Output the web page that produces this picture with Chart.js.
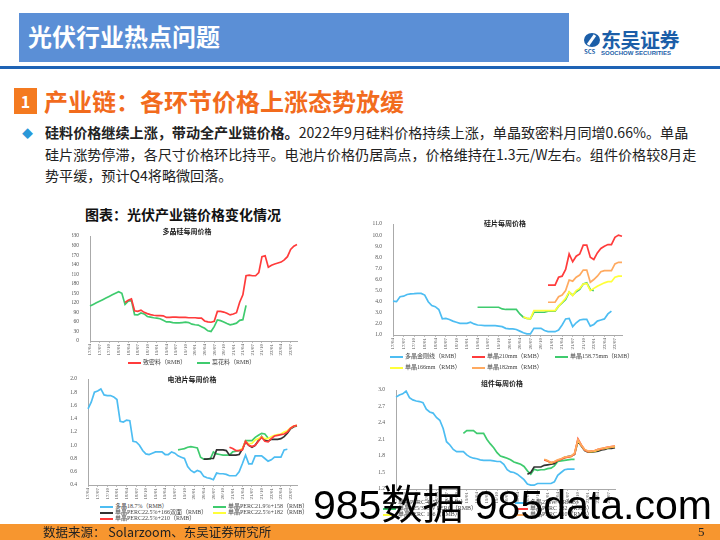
<!DOCTYPE html>
<html>
<head>
<meta charset="utf-8">
<script src="https://cdn.jsdelivr.net/npm/chart.js@4.4.0/dist/chart.umd.min.js"></script>
<style>
body { margin:0; width:720px; height:540px; position:relative; overflow:hidden; background:#fff;
  font-family:"Noto Sans CJK SC","Noto Sans",sans-serif; }
.abs { position:absolute; white-space:nowrap; }
#hdr { left:19px; top:13px; width:550px; height:49px; background:#5B8FD6; }
#hdr span { position:absolute; left:9px; top:9px; color:#fff; font-weight:bold; font-size:24px; line-height:28px; }
#rule { left:0; top:66px; width:720px; height:3px; background:#1E63B5; }
#num { left:14px; top:88px; width:23px; height:26px; background:#F47A20; color:#fff; font-weight:bold;
  font-size:16px; line-height:26px; text-align:center; }
#sec { left:44px; top:86px; font-size:24px; line-height:30px; font-weight:bold; color:#F26B1D; }
#bul { left:22px; top:124px; color:#2A98D8; font-size:11px; line-height:18px; }
#body { left:45px; top:122px; font-size:14.1px; line-height:21.5px; color:#222; }
#ctitle { left:85px; top:204px; font-size:14px; line-height:20px; font-weight:bold; color:#111; }
.ttl { font-size:7px; font-weight:bold; color:#222; line-height:9px; transform:translateX(-50%); }
.lg { font-family:"Liberation Serif","Noto Sans CJK SC",serif; font-size:6px; line-height:7px; color:#444; }
.lg i { display:inline-block; width:13px; height:2px; vertical-align:middle; margin-right:2px; }
#foot { left:0; top:524px; width:720px; height:16px; background:#F7962F; }
#src { left:43px; top:523px; font-size:12.5px; line-height:18px; color:#222; }
#page { left:698px; top:523px; font-family:"Liberation Serif",serif; font-size:13px; line-height:18px; color:#222; }
#wm { left:313px; top:481px; font-family:"Liberation Sans","Noto Sans CJK SC",sans-serif; font-size:41px; line-height:48px; color:#000; }
canvas { position:absolute; }
</style>
</head>
<body>
<div class="abs" id="hdr"><span>光伏行业热点问题</span></div>
<div class="abs" style="left:584px;top:33px;width:16px;height:14px;border-radius:50%;background:#1B5EA8;"></div>
<div class="abs" style="left:590px;top:34px;width:3px;height:12px;background:#fff;transform:rotate(35deg);"></div>
<div class="abs" style="left:584px;top:48px;font-size:6px;line-height:7px;font-weight:bold;color:#1B5EA8;">SCS</div>
<div class="abs" style="left:601px;top:28px;font-size:20px;line-height:24px;font-weight:bold;color:#1B5EA8;letter-spacing:-0.5px;">东吴证券</div>
<div class="abs" style="left:601px;top:50px;font-family:'Liberation Sans',sans-serif;font-size:6px;line-height:7px;font-weight:bold;color:#1B5EA8;">SOOCHOW SECURITIES</div>
<div class="abs" id="rule"></div>
<div class="abs" id="num">1</div>
<div class="abs" id="sec">产业链：各环节价格上涨态势放缓</div>
<div class="abs" id="bul">◆</div>
<div class="abs" id="body"><b>硅料价格继续上涨，带动全产业链价格。</b>2022年9月硅料价格持续上涨，单晶致密料月同增0.66%。单晶<br>硅片涨势停滞，各尺寸价格环比持平。电池片价格仍居高点，价格维持在1.3元/W左右。组件价格较8月走<br>势平缓，预计Q4将略微回落。</div>
<div class="abs" id="ctitle">图表：光伏产业链价格变化情况</div>

<canvas id="c1" width="230" height="135" style="left:72px;top:226px"></canvas>
<canvas id="c2" width="256" height="142" style="left:370px;top:214px"></canvas>
<canvas id="c3" width="235" height="130" style="left:66px;top:370px"></canvas>
<canvas id="c4" width="247" height="124" style="left:372px;top:380px"></canvas>

<div class="abs ttl" style="left:187px;top:227px">多晶硅每周价格</div>
<div class="abs ttl" style="left:505px;top:219px">硅片每周价格</div>
<div class="abs ttl" style="left:192px;top:375px">电池片每周价格</div>
<div class="abs ttl" style="left:502px;top:379px">组件每周价格</div>

<div id="legends"></div>

<div class="abs" id="wm">985数据 985data.com</div>
<div class="abs" id="foot"></div>
<div class="abs" id="src">数据来源： Solarzoom、东吴证券研究所</div>
<div class="abs" id="page">5</div>

<script>
// weekly prices, read roughly once per month (17/04 .. 22/09)
const months = ['17/04','17/05','17/06','17/07','17/08','17/09','17/10','17/11','17/12',
  '18/01','18/02','18/03','18/04','18/05','18/06','18/07','18/08','18/09','18/10','18/11','18/12',
  '19/01','19/02','19/03','19/04','19/05','19/06','19/07','19/08','19/09','19/10','19/11','19/12',
  '20/01','20/02','20/03','20/04','20/05','20/06','20/07','20/08','20/09','20/10','20/11','20/12',
  '21/01','21/02','21/03','21/04','21/05','21/06','21/07','21/08','21/09','21/10','21/11','21/12',
  '22/01','22/02','22/03','22/04','22/05','22/06','22/07','22/08','22/09'];

// leading months with no quote
function lead(n, vals) { return Array(n).fill(null).concat(vals); }

// 多晶硅
const siDense = lead(11, [121,128,132,95,93,97,90,86,83,81,80,80,79,74,74,75,75,74,74,74,73,73,73,72,72,
  63,60,59,62,93,93,91,87,82,85,89,122,145,205,207,205,205,215,265,268,232,238,242,245,248,255,265,288,298,303]);
const siCauli = [110,115,120,125,130,135,140,145,150,155,150,115,125,128,83,82,88,85,77,75,73,72,70,65,
  60,60,58,57,57,58,59,58,53,51,50,45,40,32,30,45,66,64,60,55,51,53,56,65,67,112];

// 硅片
const wfPoly = [4.05,4.0,4.45,4.5,4.65,4.7,4.72,4.75,4.75,4.6,4.0,3.65,3.55,3.3,2.45,2.5,2.4,2.25,2.15,2.05,
  2.05,2.05,2.15,2.0,1.9,1.88,1.85,1.85,1.85,1.85,1.8,1.75,1.6,1.55,1.55,1.5,1.35,1.2,1.1,1.1,1.6,1.6,1.6,
  1.4,1.3,1.3,1.3,1.45,1.9,2.45,2.5,1.75,2.1,2.35,2.4,2.4,1.8,1.95,2.25,2.35,2.45,2.9,3.15];
const wf210 = lead(44, [5.5,5.5,5.5,6.2,6.3,6.9,8.3,7.6,8.1,8.3,9.1,9.1,8.0,7.8,8.4,8.8,9.0,9.15,9.15,9.8,10.0,9.9]);
const wf158 = lead(24, [3.5,3.5,3.5,3.5,3.5,3.5,3.5,3.35,3.3,3.3,3.3,3.3,2.9,2.6,2.5,2.45,3.05,3.05,3.05,3.05,
  3.15,3.15,3.15,3.6,3.9,4.2,4.85,4.6,4.9,5.1,5.6,5.7,5.1,5.0]);
const wf166 = lead(37, [2.65,2.5,2.45,3.2,3.2,3.2,3.2,3.2,3.2,3.2,3.6,3.95,4.3,4.9,4.55,5.0,5.2,5.6,5.65,5.0,
  5.2,5.4,5.55,5.7,5.8,5.8,6.2,6.3,6.3]);
const wf182 = lead(44, [3.95,3.95,3.95,4.45,4.6,5.0,5.95,5.85,6.2,6.4,6.85,6.85,5.75,6.0,6.3,6.7,6.8,6.8,6.8,7.4,7.55,7.55]);

// 电池片
const cePoly = [1.55,1.65,1.8,1.82,1.85,1.76,1.75,1.75,1.73,1.69,1.36,1.35,1.38,1.37,1.06,1.05,1.0,0.92,0.87,
  0.86,0.88,0.9,0.9,0.9,0.86,0.86,0.9,0.88,0.84,0.82,0.8,0.68,0.62,0.59,0.62,0.6,0.53,0.51,0.5,0.48,0.58,0.57,
  0.57,0.56,0.54,0.54,0.54,0.6,0.72,0.85,0.72,0.72,0.84,0.84,0.84,0.8,0.76,0.78,0.82,0.82,0.82,0.93,0.94];
const ce158 = lead(28, [0.93,0.94,0.95,0.97,0.98,0.97,0.96,0.82,0.79,0.79,0.79,0.9,0.87,0.86,0.85,0.85,0.85,
  0.9,0.91,0.92,0.93,1.07,1.07,1.07,1.12,1.15,1.18,1.17,1.11]);
const ce166 = lead(36, [0.79,0.79,0.8,0.8,0.93,0.93,0.93,0.92,0.85,0.85,0.85,0.86,0.94,1.05,1.0,0.97,1.0,1.07,
  1.13,1.08,1.06,1.09,1.09,1.09,1.1,1.13,1.18,1.25,1.28,1.29]);
const ce182 = lead(47, [0.92,0.95,1.06,1.02,1.03,1.08,1.1,1.13,1.1,1.1,1.13,1.15,1.16,1.17,1.2,1.22,1.26,1.29,1.3]);
const ce210 = lead(44, [0.97,0.95,0.92,0.92,0.93,1.06,1.0,0.98,1.0,1.06,1.12,1.06,1.05,1.1,1.14,1.15,1.16,1.17,
  1.2,1.26,1.29,1.3]);

// 组件
const moPoly = [2.87,2.91,2.93,2.98,2.86,2.82,2.8,2.79,2.77,2.65,2.6,2.58,2.5,2.45,2.3,2.06,2.0,1.92,1.88,1.88,
  1.88,1.82,1.78,1.76,1.75,1.73,1.72,1.72,1.72,1.71,1.7,1.7,1.65,1.55,1.51,1.5,1.47,1.42,1.37,1.29,1.27,1.27,
  1.3,1.3,1.3,1.3,1.3,1.33,1.45,1.5,1.55,1.56,1.56,1.56];
const moMono = lead(20, [2.21,2.26,2.26,2.26,2.21,2.21,2.21,2.1,2.02,1.95,1.86,1.8,1.78,1.76,1.73,1.69,1.67,
  1.65,1.61,1.53,1.47,1.56,1.54,1.55,1.55,1.57,1.58,1.62,1.7,1.71,1.72,1.73,1.74,1.74]);
const mo425 = lead(39, [1.47,1.5,1.6,1.6,1.6,1.63,1.64,1.65,1.66,1.72,1.74,1.77,1.79,1.8,1.83,2.07,1.98,1.9,
  1.87,1.87,1.88,1.89,1.91,1.92,1.94,1.94,1.95]);
const mo166 = lead(44, [1.73,1.71,1.67,1.69,1.72,1.74,1.77,1.78,1.79,1.84,2.08,1.99,1.91,1.88,1.88,1.89,1.91,
  1.93,1.94,1.95,1.96,1.97]);
const mo182 = lead(44, [1.73,1.71,1.68,1.69,1.72,1.74,1.77,1.78,1.79,1.84,2.11,2.0,1.91,1.88,1.89,1.9,1.92,
  1.93,1.95,1.96,1.97,1.98]);
const mo210 = lead(44, [1.74,1.72,1.68,1.7,1.73,1.75,1.78,1.79,1.8,1.85,2.1,2.0,1.92,1.89,1.89,1.9,1.92,1.94,
  1.95,1.96,1.97,1.98]);

const RED = '#FF3B3B', GREEN = '#3FCB6E', BLUE = '#4DBDF2', YELLOW = '#FFFF3A', ORANGE = '#FFAA60', BLACK = '#333333';

function line(label, data, color) {
  return { label, data, borderColor: color, backgroundColor: color, borderWidth: 1.7,
    pointRadius: 0, tension: 0, spanGaps: false };
}

function makeChart(id, datasets, yMin, yMax, yStep, digits, box) {
  new Chart(document.getElementById(id), {
    type: 'line',
    data: { labels: months, datasets: datasets },
    options: {
      responsive: false, animation: false, devicePixelRatio: 1,
      layout: { padding: { top: box.top, right: box.right, left: 0, bottom: 0 } },
      plugins: { legend: { display: false }, tooltip: { enabled: false } },
      scales: {
        x: {
          grid: { display: true, drawOnChartArea: false, drawTicks: true, tickLength: 2, color: '#bbb' },
          border: { display: true, color: '#aaa' },
          ticks: {
            autoSkip: false, minRotation: 90, maxRotation: 90, padding: 1, color: '#555',
            font: { family: 'Liberation Serif', size: 5 },
            callback: function (v, i) { return i % 3 === 0 ? months[i] : null; }
          },
          afterFit: function (s) { s.height = box.xh; }
        },
        y: {
          min: yMin, max: yMax,
          grid: { display: false },
          border: { display: true, color: '#aaa' },
          ticks: { stepSize: yStep, autoSkip: false, padding: 3, color: '#555',
            font: { family: 'Liberation Serif', size: 5.5 },
            callback: function (v) { return v.toFixed(digits); } },
          afterFit: function (s) { s.width = box.yw; }
        }
      }
    }
  });
}

makeChart('c1', [
  line('致密料（RMB）', siDense, RED),
  line('菜花料（RMB）', siCauli, GREEN)
], 0, 330, 30, 0, { top: 10, right: 5, yw: 18, xh: 20 });

makeChart('c2', [
  line('单晶210mm（RMB）', wf210, RED),
  line('单晶182mm（RMB）', wf182, ORANGE),
  line('单晶166mm（RMB）', wf166, YELLOW),
  line('单晶158.75mm（RMB）', wf158, GREEN),
  line('多晶金刚线（RMB）', wfPoly, BLUE)
], 1, 11, 1, 1, { top: 10, right: 4, yw: 23, xh: 21 });

makeChart('c3', [
  line('单晶PERC22.5%+210（RMB）', ce210, RED),
  line('单晶PERC22.5%+182（RMB）', ce182, YELLOW),
  line('单晶PERC22.5%+166双面（RMB）', ce166, BLACK),
  line('单晶PERC21.9%+158（RMB）', ce158, GREEN),
  line('多晶18.7%（RMB）', cePoly, BLUE)
], 0.4, 2.0, 0.2, 1, { top: 9, right: 4, yw: 22, xh: 15 });

makeChart('c4', [
  line('单晶PERC 210（RMB）', mo210, ORANGE),
  line('单晶PERC 182（RMB）', mo182, RED),
  line('单晶PERC 166（RMB）', mo166, YELLOW),
  line('单晶PERC 425W（RMB）', mo425, BLACK),
  line('单晶325/335W PERC（RMB）', moMono, GREEN),
  line('多晶275W（RMB）', moPoly, BLUE)
], 1.2, 3.0, 0.3, 1, { top: 10, right: 4, yw: 24, xh: 15 });

// legends (name, colour, left, top)
const legendItems = [
  ['致密料（RMB）', RED, 128, 359], ['菜花料（RMB）', GREEN, 197, 359],
  ['多晶金刚线（RMB）', BLUE, 390, 353], ['单晶210mm（RMB）', RED, 472, 353], ['单晶158.75mm（RMB）', GREEN, 555, 353],
  ['单晶166mm（RMB）', YELLOW, 390, 364], ['单晶182mm（RMB）', ORANGE, 472, 364],
  ['多晶18.7%（RMB）', BLUE, 100, 503], ['单晶PERC21.9%+158（RMB）', GREEN, 213, 503],
  ['单晶PERC22.5%+166双面（RMB）', BLACK, 100, 509], ['单晶PERC22.5%+182（RMB）', YELLOW, 213, 509],
  ['单晶PERC22.5%+210（RMB）', RED, 100, 515],
  ['单晶PERC 425W（RMB）', BLACK, 383, 499], ['多晶275W（RMB）', BLUE, 515, 499],
  ['单晶325/335W PERC（RMB）', GREEN, 383, 505], ['单晶PERC 182（RMB）', RED, 515, 505],
  ['单晶PERC 166（RMB）', YELLOW, 383, 511], ['单晶PERC 210（RMB）', ORANGE, 515, 511]
];
const lgBox = document.getElementById('legends');
legendItems.forEach(function (it) {
  const d = document.createElement('div');
  d.className = 'abs lg';
  d.style.left = it[2] + 'px';
  d.style.top = it[3] + 'px';
  d.innerHTML = '<i style="background:' + it[1] + '"></i>' + it[0];
  lgBox.appendChild(d);
});
</script>
</body>
</html>
